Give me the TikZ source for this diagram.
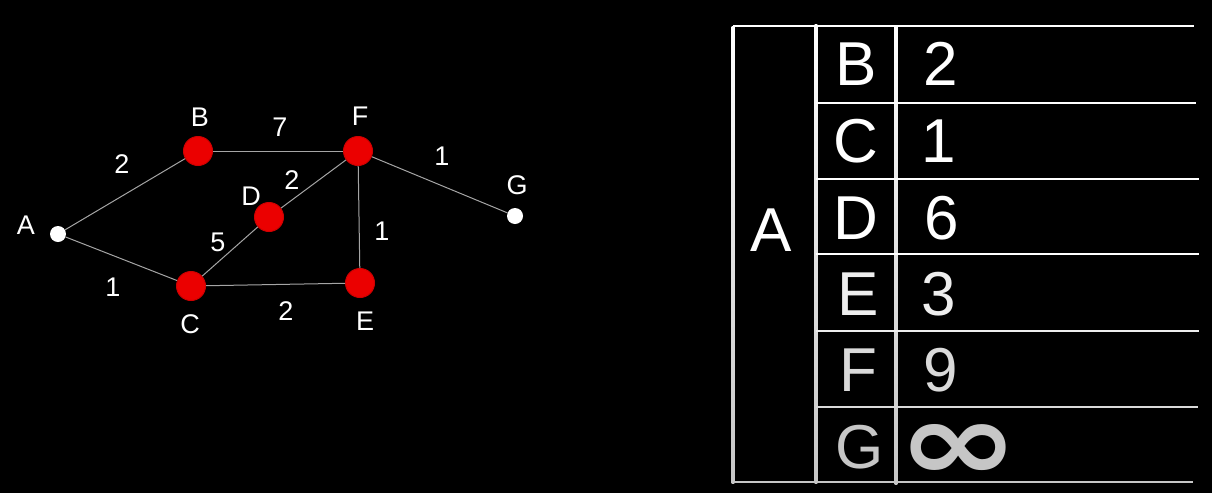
\documentclass[tikz,border=0pt]{standalone}
\usepackage{fontspec}
\setmainfont{Liberation Sans}
\newfontfamily\symfont{DejaVu Sans}
\definecolor{nodered}{RGB}{235,0,0}
\definecolor{edgegray}{RGB}{165,165,165}
\definecolor{rowE}{RGB}{238,238,238}
\definecolor{rowF}{RGB}{218,218,218}
\definecolor{rowG}{RGB}{198,198,198}
\tikzset{
  vwhite/.style={circle,fill=white,inner sep=0pt,minimum size=16pt},
  vred/.style={circle,fill=nodered,draw=nodered!88!black,line width=1pt,inner sep=0pt,minimum size=29pt},
  edgeline/.style={draw=edgegray,line width=1pt},
  glabel/.style={text=white,inner sep=0pt,font=\fontsize{27}{27}\selectfont},
  tlabel/.style={inner sep=0pt,font=\fontsize{62}{62}\selectfont},
  tline/.style={line width=2.6pt}
}
\begin{document}
\begin{tikzpicture}[x=1pt,y=-1pt]
\fill[black] (0,0) rectangle (1212,493);
\useasboundingbox (0,0) rectangle (1212,493);
% ---------- graph ----------
\node[vwhite] (A) at (58,234) {};
\node[vred] (B) at (198,151) {};
\node[vred] (F) at (358,151) {};
\node[vred] (D) at (269,217) {};
\node[vred] (C) at (191,286) {};
\node[vred] (E) at (360,283) {};
\node[vwhite] (G) at (515,216) {};
\draw[edgeline] (A) -- (B);
\draw[edgeline] (A) -- (C);
\draw[edgeline] (B) -- (F);
\draw[edgeline] (F) -- (D);
\draw[edgeline] (D) -- (C);
\draw[edgeline] (C) -- (E);
\draw[edgeline] (F) -- (E);
\draw[edgeline] (F) -- (G);
% vertex names
\node[glabel] (lA) at (26,225) {A};
\node[glabel] (lB) at (200,117) {B};
\node[glabel] (lF) at (360,116) {F};
\node[glabel] (lG) at (517,185) {G};
\node[glabel] (lD) at (251,196) {D};
\node[glabel] (lC) at (190,324) {C};
\node[glabel] (lE) at (365,321) {E};
% weights
\node[glabel] (wAB) at (122,164) {2};
\node[glabel] (wBF) at (280,127) {7};
\node[glabel] (wFG) at (442,156) {1};
\node[glabel] (wDF) at (292,180) {2};
\node[glabel] (wCD) at (218,242) {5};
\node[glabel] (wFE) at (382,231) {1};
\node[glabel] (wAC) at (113,287) {1};
\node[glabel] (wCE) at (286,311) {2};
% ---------- table ----------
\shade[top color=white,bottom color=rowG] (731.7,26) rectangle (734.3,483);
\shade[top color=white,bottom color=rowG] (814.7,24) rectangle (817.3,483);
\shade[top color=white,bottom color=rowG] (894.7,26) rectangle (897.3,484);
\draw[tline,white] (733,26) -- (1194,26);
\draw[tline,white] (816,103) -- (1196,103);
\draw[tline,white] (816,179) -- (1199,179);
\draw[tline,white] (816,254) -- (1199,254);
\draw[tline,rowE] (816,331) -- (1199,331);
\draw[tline,rowF] (816,407) -- (1198,407);
\draw[tline,rowG] (733,482) -- (1193,482);
\node[tlabel,text=white] (tA) at (771,230) {A};
\node[tlabel,text=white] (tB) at (856,64) {B};
\node[tlabel,text=white] (vB) at (941,64) {2};
\node[tlabel,text=white] (tC) at (856,141) {C};
\node[tlabel,text=white] (vC) at (939,141) {1};
\node[tlabel,text=white] (tD) at (856,218) {D};
\node[tlabel,text=white] (vD) at (942,218) {6};
\node[tlabel,text=rowE] (tE) at (858,294) {E};
\node[tlabel,text=rowE] (vE) at (939,294) {3};
\node[tlabel,text=rowF] (tF) at (858,370) {F};
\node[tlabel,text=rowF] (vF) at (941,370) {9};
\node[tlabel,text=rowG] (tG) at (860,447) {G};
\node[inner sep=0pt,text=rowG] (vG) at (959,452) {\resizebox{122pt}{56pt}{\symfont\bfseries ∞}};
\end{tikzpicture}
\end{document}
